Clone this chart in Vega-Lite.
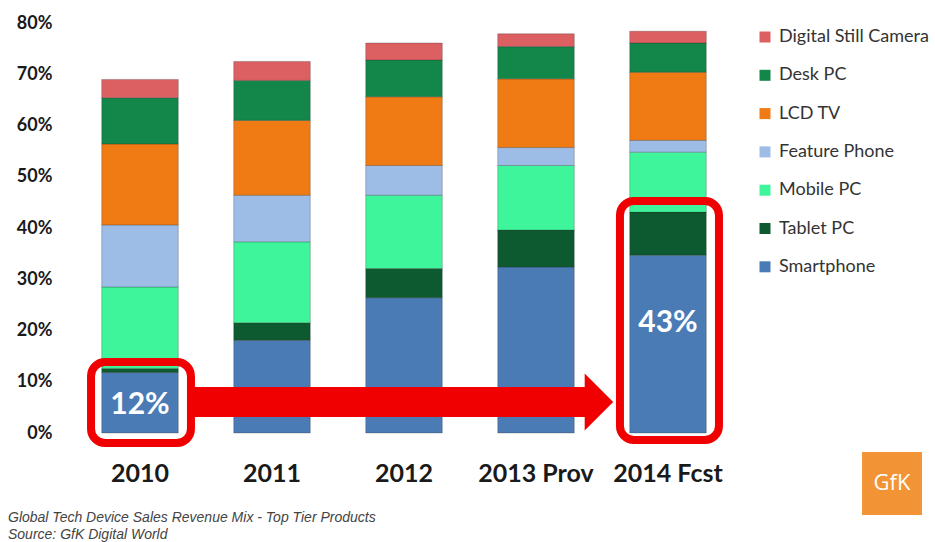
{
  "$schema": "https://vega.github.io/schema/vega-lite/v6.json",
  "width": 660,
  "height": 410,
  "autosize": {"type": "none"},
  "padding": {"left": 74, "top": 23, "right": 201, "bottom": 109},
  "background": "white",
  "config": {"view": {"stroke": null}},
  "datasets": {
    "shares": [
      {"year": "2010", "device": "Smartphone", "share": 11.8, "ord": 1},
      {"year": "2010", "device": "Tablet PC", "share": 0.8, "ord": 2},
      {"year": "2010", "device": "Mobile PC", "share": 15.9, "ord": 3},
      {"year": "2010", "device": "Feature Phone", "share": 12.1, "ord": 4},
      {"year": "2010", "device": "LCD TV", "share": 15.8, "ord": 5},
      {"year": "2010", "device": "Desk PC", "share": 9.0, "ord": 6},
      {"year": "2010", "device": "Digital Still Camera", "share": 3.6, "ord": 7},
      {"year": "2011", "device": "Smartphone", "share": 18.1, "ord": 1},
      {"year": "2011", "device": "Tablet PC", "share": 3.4, "ord": 2},
      {"year": "2011", "device": "Mobile PC", "share": 15.8, "ord": 3},
      {"year": "2011", "device": "Feature Phone", "share": 9.1, "ord": 4},
      {"year": "2011", "device": "LCD TV", "share": 14.6, "ord": 5},
      {"year": "2011", "device": "Desk PC", "share": 7.8, "ord": 6},
      {"year": "2011", "device": "Digital Still Camera", "share": 3.7, "ord": 7},
      {"year": "2012", "device": "Smartphone", "share": 26.4, "ord": 1},
      {"year": "2012", "device": "Tablet PC", "share": 5.7, "ord": 2},
      {"year": "2012", "device": "Mobile PC", "share": 14.3, "ord": 3},
      {"year": "2012", "device": "Feature Phone", "share": 5.8, "ord": 4},
      {"year": "2012", "device": "LCD TV", "share": 13.4, "ord": 5},
      {"year": "2012", "device": "Desk PC", "share": 7.2, "ord": 6},
      {"year": "2012", "device": "Digital Still Camera", "share": 3.3, "ord": 7},
      {"year": "2013 Prov", "device": "Smartphone", "share": 32.4, "ord": 1},
      {"year": "2013 Prov", "device": "Tablet PC", "share": 7.2, "ord": 2},
      {"year": "2013 Prov", "device": "Mobile PC", "share": 12.6, "ord": 3},
      {"year": "2013 Prov", "device": "Feature Phone", "share": 3.5, "ord": 4},
      {"year": "2013 Prov", "device": "LCD TV", "share": 13.4, "ord": 5},
      {"year": "2013 Prov", "device": "Desk PC", "share": 6.3, "ord": 6},
      {"year": "2013 Prov", "device": "Digital Still Camera", "share": 2.5, "ord": 7},
      {"year": "2014 Fcst", "device": "Smartphone", "share": 34.7, "ord": 1},
      {"year": "2014 Fcst", "device": "Tablet PC", "share": 8.4, "ord": 2},
      {"year": "2014 Fcst", "device": "Mobile PC", "share": 11.7, "ord": 3},
      {"year": "2014 Fcst", "device": "Feature Phone", "share": 2.3, "ord": 4},
      {"year": "2014 Fcst", "device": "LCD TV", "share": 13.3, "ord": 5},
      {"year": "2014 Fcst", "device": "Desk PC", "share": 5.7, "ord": 6},
      {"year": "2014 Fcst", "device": "Digital Still Camera", "share": 2.3, "ord": 7}
    ],
    "boxes": [
      {"x1": 0.129, "x2": 0.886, "y1": 13.85, "y2": -1.95},
      {"x1": 4.136, "x2": 4.886, "y1": 45.27, "y2": -1.37}
    ],
    "shaft": [
      {"x1": 0.886, "x2": 3.92, "y1": 8.98, "y2": 3.12}
    ],
    "head": [
      {"x": 3.977, "y": 6.05}
    ],
    "callouts": [
      {"x": 0.5, "y": 5.46, "label": "12%"},
      {"x": 4.5, "y": 21.46, "label": "43%"}
    ],
    "logo": [
      {"x1": 5.97, "x2": 6.424, "y1": -3.71, "y2": -16.0}
    ],
    "logotext": [
      {"x": 6.197, "y": -9.76, "label": "GfK"}
    ],
    "footer": [
      {"x": -0.5, "y": -17.3, "label": "Global Tech Device Sales Revenue Mix  - Top Tier Products"},
      {"x": -0.5, "y": -20.7, "label": "Source: GfK Digital World"}
    ]
  },
  "layer": [
    {
      "data": {"name": "shares"},
      "mark": {"type": "bar", "stroke": "#2a2a2a", "strokeWidth": 0.6, "strokeOpacity": 0.45},
      "encoding": {
        "x": {
          "field": "year", "type": "nominal", "sort": null,
          "scale": {"paddingInner": 0.42, "paddingOuter": 0.21},
          "axis": {"title": null, "labelAngle": 0, "labelFont": "Lato", "labelFontWeight": "bold", "labelFontSize": 25, "labelColor": "#1a1a1a", "labelPadding": 28, "ticks": false, "domain": false}
        },
        "y": {
          "field": "share", "type": "quantitative", "stack": "zero",
          "scale": {"domain": [0, 80], "nice": false},
          "axis": {"title": null, "values": [0, 10, 20, 30, 40, 50, 60, 70, 80], "labelExpr": "datum.value + '%'", "grid": false, "domain": false, "ticks": false, "labelPadding": 22, "labelFont": "Lato", "labelFontWeight": "bold", "labelFontSize": 18, "labelColor": "#1a1a1a"}
        },
        "color": {
          "field": "device", "type": "nominal",
          "scale": {
            "domain": ["Digital Still Camera", "Desk PC", "LCD TV", "Feature Phone", "Mobile PC", "Tablet PC", "Smartphone"],
            "range": ["#dc5f62", "#13864a", "#f07b15", "#9dbde6", "#3ff59b", "#0e5a30", "#4b7bb5"]
          },
          "legend": {"title": null, "orient": "none", "legendX": 682, "legendY": 5, "symbolType": "square", "symbolSize": 121, "symbolStrokeWidth": 0, "symbolOpacity": 1, "labelFont": "Lato", "labelFontSize": 18, "labelColor": "#333333", "rowPadding": 20.3, "labelOffset": 5}
        },
        "order": {"field": "ord", "type": "quantitative"}
      }
    },
    {
      "data": {"name": "boxes"},
      "mark": {"type": "rect", "filled": false, "stroke": "#f00000", "strokeWidth": 8, "cornerRadius": 14},
      "encoding": {
        "x": {"field": "x1", "type": "quantitative", "scale": {"domain": [0, 5], "nice": false, "zero": false}, "axis": null},
        "x2": {"field": "x2"},
        "y": {"field": "y1", "type": "quantitative", "scale": {"domain": [0, 80], "nice": false}},
        "y2": {"field": "y2"}
      }
    },
    {
      "data": {"name": "shaft"},
      "mark": {"type": "rect", "color": "#f00000"},
      "encoding": {
        "x": {"field": "x1", "type": "quantitative", "scale": {"domain": [0, 5], "nice": false, "zero": false}, "axis": null},
        "x2": {"field": "x2"},
        "y": {"field": "y1", "type": "quantitative", "scale": {"domain": [0, 80], "nice": false}},
        "y2": {"field": "y2"}
      }
    },
    {
      "data": {"name": "head"},
      "mark": {"type": "point", "shape": "M -0.5 -1 L 0.5 0 L -0.5 1 Z", "filled": true, "size": 3249, "color": "#f00000", "opacity": 1, "strokeWidth": 0},
      "encoding": {
        "x": {"field": "x", "type": "quantitative", "scale": {"domain": [0, 5], "nice": false, "zero": false}, "axis": null},
        "y": {"field": "y", "type": "quantitative", "scale": {"domain": [0, 80], "nice": false}}
      }
    },
    {
      "data": {"name": "callouts"},
      "mark": {"type": "text", "font": "Lato", "fontWeight": "bold", "fontSize": 30, "color": "white", "align": "center", "baseline": "middle"},
      "encoding": {
        "x": {"field": "x", "type": "quantitative", "scale": {"domain": [0, 5], "nice": false, "zero": false}, "axis": null},
        "y": {"field": "y", "type": "quantitative", "scale": {"domain": [0, 80], "nice": false}},
        "text": {"field": "label"}
      }
    },
    {
      "data": {"name": "logo"},
      "mark": {"type": "rect", "color": "#f29436"},
      "encoding": {
        "x": {"field": "x1", "type": "quantitative", "scale": {"domain": [0, 5], "nice": false, "zero": false}, "axis": null},
        "x2": {"field": "x2"},
        "y": {"field": "y1", "type": "quantitative", "scale": {"domain": [0, 80], "nice": false}},
        "y2": {"field": "y2"}
      }
    },
    {
      "data": {"name": "logotext"},
      "mark": {"type": "text", "font": "Open Sans", "fontSize": 22, "color": "white", "align": "center", "baseline": "middle"},
      "encoding": {
        "x": {"field": "x", "type": "quantitative", "scale": {"domain": [0, 5], "nice": false, "zero": false}, "axis": null},
        "y": {"field": "y", "type": "quantitative", "scale": {"domain": [0, 80], "nice": false}},
        "text": {"field": "label"}
      }
    },
    {
      "data": {"name": "footer"},
      "mark": {"type": "text", "font": "Liberation Sans", "fontStyle": "italic", "fontSize": 14, "color": "#444444", "align": "left", "baseline": "alphabetic"},
      "encoding": {
        "x": {"field": "x", "type": "quantitative", "scale": {"domain": [0, 5], "nice": false, "zero": false}, "axis": null},
        "y": {"field": "y", "type": "quantitative", "scale": {"domain": [0, 80], "nice": false}},
        "text": {"field": "label"}
      }
    }
  ],
  "resolve": {"scale": {"x": "independent"}, "axis": {"x": "independent"}}
}
